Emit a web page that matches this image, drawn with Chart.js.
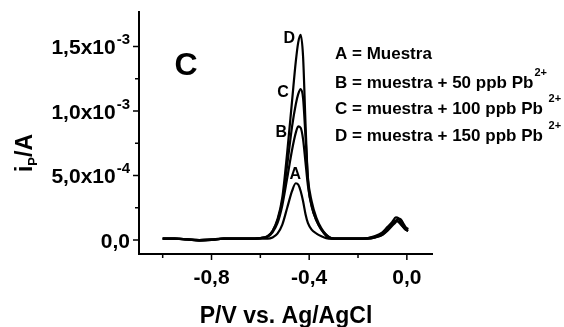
<!DOCTYPE html>
<html>
<head>
<meta charset="utf-8">
<script src="https://cdn.jsdelivr.net/npm/chart.js@4"></script>
<style>
  html, body { margin: 0; padding: 0; background: #fff; }
  canvas { display: block; }
</style>
</head>
<body>
<canvas id="chart" width="564" height="327"></canvas>
<script>
// potential (V vs Ag/AgCl), shared by all four scans
const potentials = [-1.00, -0.95, -0.90, -0.85, -0.80, -0.75, -0.70, -0.65, -0.60, -0.57,
    -0.55, -0.53, -0.51, -0.49, -0.47, -0.455, -0.445, -0.435, -0.425, -0.415,
    -0.405, -0.39, -0.37, -0.35, -0.33, -0.31, -0.28, -0.24, -0.20, -0.16,
    -0.13, -0.10, -0.08, -0.06, -0.045, -0.035, -0.025, -0.015, -0.005, 0.005];

// currents in mA (x1e-3 A)
const curveA = [0.01, 0.01, 0.005, -0.005, 0.0, 0.01, 0.01, 0.01, 0.01, 0.01,
    0.02, 0.05, 0.12, 0.25, 0.38, 0.44, 0.43, 0.38, 0.30, 0.20,
    0.13, 0.08, 0.05, 0.03, 0.015, 0.01, 0.01, 0.01, 0.01, 0.01,
    0.02, 0.04, 0.08, 0.12, 0.15, 0.14, 0.12, 0.10, 0.08, 0.07];
const curveB = [0.01, 0.01, 0.005, 0.0, 0.005, 0.01, 0.01, 0.01, 0.015, 0.025,
    0.06, 0.13, 0.27, 0.48, 0.70, 0.83, 0.88, 0.87, 0.78, 0.60,
    0.42, 0.26, 0.15, 0.08, 0.04, 0.015, 0.01, 0.01, 0.01, 0.01,
    0.02, 0.04, 0.07, 0.11, 0.14, 0.165, 0.16, 0.13, 0.10, 0.085];
const curveC = [0.01, 0.01, 0.005, 0.0, 0.005, 0.01, 0.01, 0.01, 0.015, 0.03,
    0.07, 0.15, 0.30, 0.58, 0.88, 1.05, 1.13, 1.17, 1.10, 0.80,
    0.48, 0.30, 0.17, 0.09, 0.04, 0.015, 0.01, 0.01, 0.01, 0.015,
    0.025, 0.05, 0.09, 0.12, 0.15, 0.16, 0.155, 0.12, 0.09, 0.08];
const curveD = [0.01, 0.01, 0.005, -0.005, 0.0, 0.01, 0.01, 0.01, 0.015, 0.03,
    0.07, 0.16, 0.33, 0.68, 1.08, 1.38, 1.53, 1.59, 1.42, 0.90,
    0.46, 0.27, 0.15, 0.08, 0.03, 0.01, 0.01, 0.01, 0.01, 0.015,
    0.03, 0.06, 0.10, 0.14, 0.175, 0.17, 0.13, 0.10, 0.08, 0.07];

const curveNames = ['A', 'B', 'C', 'D'];
// where each letter sits next to its curve (V, mA)
const curveLabelX = [-0.457, -0.514, -0.507, -0.482];
const curveLabelY = [0.51, 0.83, 1.14, 1.56];

const legendLines = ['A = Muestra', 'B = muestra + 50 ppb Pb', 'C = muestra + 100 ppb Pb ', 'D = muestra + 150 ppb Pb '];
const legendSup = ['', '2+', '2+', '2+'];

const xMajor = [-0.8, -0.4, 0.0];
const xMinor = [-1.0, -0.6, -0.2];
const xTickLabels = ['-0,8', '-0,4', '0,0'];
const yMajor = [0, 5e-4, 1e-3, 1.5e-3];
const yMinor = [2.5e-4, 7.5e-4, 1.25e-3];
const yTickMant = ['0,0', '5,0x10', '1,0x10', '1,5x10'];
const yTickExp = ['', '-4', '-3', '-3'];

const FONT = '"Liberation Sans", Arial, sans-serif';

function series(values) {
    return potentials.map((p, i) => ({ x: p, y: values[i] * 1e-3 }));
}

const decorations = {
    id: 'decorations',
    afterDraw(chart) {
        const ctx = chart.ctx;
        const xs = chart.scales.x;
        const ys = chart.scales.y;
        const area = chart.chartArea;
        ctx.save();
        ctx.strokeStyle = '#000';
        ctx.fillStyle = '#000';
        ctx.lineWidth = 1.5;

        // ticks
        ctx.beginPath();
        yMajor.forEach(v => { const y = ys.getPixelForValue(v); ctx.moveTo(area.left, y); ctx.lineTo(area.left - 6, y); });
        yMinor.forEach(v => { const y = ys.getPixelForValue(v); ctx.moveTo(area.left, y); ctx.lineTo(area.left - 4, y); });
        xMajor.forEach(v => { const x = xs.getPixelForValue(v); ctx.moveTo(x, area.bottom); ctx.lineTo(x, area.bottom + 6); });
        xMinor.forEach(v => { const x = xs.getPixelForValue(v); ctx.moveTo(x, area.bottom); ctx.lineTo(x, area.bottom + 4); });
        ctx.stroke();

        // y tick labels with exponents
        ctx.textBaseline = 'alphabetic';
        ctx.textAlign = 'right';
        yMajor.forEach((v, i) => {
            const y = ys.getPixelForValue(v);
            let right = area.left - 9;
            if (yTickExp[i]) {
                ctx.font = 'bold 15px ' + FONT;
                ctx.fillText(yTickExp[i], right, y - 2);
                right -= ctx.measureText(yTickExp[i]).width + 1;
            }
            ctx.font = 'bold 21px ' + FONT;
            ctx.fillText(yTickMant[i], right, y + 8);
        });

        // x tick labels
        ctx.textAlign = 'center';
        ctx.font = 'bold 21px ' + FONT;
        xMajor.forEach((v, i) => {
            ctx.fillText(xTickLabels[i], xs.getPixelForValue(v), area.bottom + 30);
        });

        // axis titles
        ctx.font = 'bold 23px ' + FONT;
        ctx.fillText('P/V vs. Ag/AgCl', 286, 323);

        ctx.save();
        ctx.translate(32, 153);
        ctx.rotate(-Math.PI / 2);
        ctx.textAlign = 'left';
        ctx.font = 'bold 23px ' + FONT;
        const iw = ctx.measureText('i').width;
        ctx.font = 'bold 13px ' + FONT;
        const pw = ctx.measureText('P').width;
        ctx.font = 'bold 23px ' + FONT;
        const aw = ctx.measureText('/A').width;
        let x0 = -(iw + pw + aw) / 2;
        ctx.fillText('i', x0, 0);
        ctx.font = 'bold 13px ' + FONT;
        ctx.fillText('P', x0 + iw, 5);
        ctx.font = 'bold 23px ' + FONT;
        ctx.fillText('/A', x0 + iw + pw, 0);
        ctx.restore();

        // panel letter
        ctx.font = 'bold 32px ' + FONT;
        ctx.textAlign = 'center';
        ctx.textBaseline = 'middle';
        ctx.fillText('C', 186, 66);

        // curve letters
        ctx.font = 'bold 16px ' + FONT;
        curveNames.forEach((n, i) => {
            ctx.fillText(n, xs.getPixelForValue(curveLabelX[i]), ys.getPixelForValue(curveLabelY[i] * 1e-3));
        });

        // legend text
        ctx.textAlign = 'left';
        ctx.textBaseline = 'alphabetic';
        const legendY = [59, 88, 114, 141];
        legendLines.forEach((t, i) => {
            ctx.font = 'bold 17px ' + FONT;
            ctx.fillText(t, 335, legendY[i]);
            if (legendSup[i]) {
                const w = ctx.measureText(t).width;
                ctx.font = 'bold 11px ' + FONT;
                ctx.fillText(legendSup[i], 335 + w + 1, legendY[i] - 12);
            }
        });
        ctx.restore();
    }
};

const lineStyle = { borderColor: '#000', borderWidth: 2.2, pointRadius: 0, fill: false, cubicInterpolationMode: 'monotone' };

new Chart(document.getElementById('chart').getContext('2d'), {
    type: 'line',
    data: {
        datasets: [
            Object.assign({ label: 'A', data: series(curveA) }, lineStyle),
            Object.assign({ label: 'B', data: series(curveB) }, lineStyle),
            Object.assign({ label: 'C', data: series(curveC) }, lineStyle),
            Object.assign({ label: 'D', data: series(curveD) }, lineStyle)
        ]
    },
    options: {
        responsive: false,
        animation: false,
        devicePixelRatio: 1,
        layout: { padding: { top: 12, right: 132, left: 0, bottom: 0 } },
        plugins: { legend: { display: false }, tooltip: { enabled: false } },
        scales: {
            x: {
                type: 'linear', min: -1.097, max: 0.103,
                grid: { display: false },
                ticks: { display: false },
                border: { display: true, color: '#000', width: 2 },
                afterFit: s => { s.height = 73; }
            },
            y: {
                type: 'linear', min: -1.085e-4, max: 1.767e-3,
                grid: { display: false },
                ticks: { display: false },
                border: { display: true, color: '#000', width: 2 },
                afterFit: s => { s.width = 139; }
            }
        }
    },
    plugins: [decorations]
});
</script>
</body>
</html>
